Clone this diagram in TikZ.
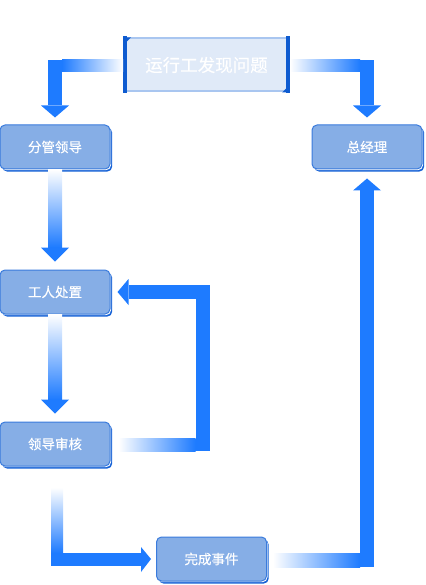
\documentclass[tikz,border=0pt]{standalone}
\usepackage{fontspec}
\newfontfamily\cjk[FakeBold=0.35]{Noto Sans CJK SC}
\usetikzlibrary{calc}
\definecolor{flowblue}{HTML}{1E7BFF}
\definecolor{nodefill}{HTML}{86AEE6}
\definecolor{nodeedge}{HTML}{3A7BDC}
\definecolor{shadowblue}{HTML}{1662D6}
\definecolor{topfill}{HTML}{E0EAF8}
\definecolor{topedge}{HTML}{A9C6F0}
\definecolor{topbar}{HTML}{0E5BD0}
\tikzset{
  % process boxes
  stepbox/.style={
    draw=nodeedge, fill=nodefill, rounded corners=5pt,
    minimum width=110pt, minimum height=44pt, inner sep=0pt,
    line width=1pt, text=white,
    font=\cjk\fontsize{13.5}{16}\selectfont,
    preaction={fill=shadowblue, transform canvas={xshift=2.2pt, yshift=-2.6pt}},
    preaction={fill=white, transform canvas={xshift=1pt, yshift=-1.2pt}},
  },
  % start box
  topbox/.style={
    draw=topedge, fill=topfill, minimum width=163pt, minimum height=53pt,
    inner sep=0pt, line width=2pt, text=white,
    font=\cjk\fontsize{17.5}{20}\selectfont,
  },
  % thick flow arrows
  bar/.style={fill=flowblue},
  fadeleft/.style={left color=white, right color=flowblue},
  faderight/.style={left color=flowblue, right color=white},
  fadetop/.style={top color=white, bottom color=flowblue},
}
\begin{document}
\begin{tikzpicture}[x=1pt, y=-1pt]
  \useasboundingbox (0,0) rectangle (425,585);

  \node[topbox] (issue) at (206.5,65) {运行工发现问题};
  \fill[topbar] ($(issue.north west)+(-1,-1)$) rectangle ($(issue.south west)+(3,1)$);
  \fill[topbar] ($(issue.north east)+(-3,-1)$) rectangle ($(issue.south east)+(1,1)$);
  \fill[topbar] (issue.north west) -- ++(7,0) -- ++(-7,7) -- cycle;
  \fill[topbar] (issue.south east) -- ++(-7,0) -- ++(7,-7) -- cycle;

  \node[stepbox] (lead) at (55,147) {分管领导};
  \node[stepbox] (gm) at (367,147) {总经理};
  \node[stepbox] (worker) at (55,292) {工人处置};
  \node[stepbox] (review) at (55,444) {领导审核};
  \node[stepbox] (finish) at (211.5,559) {完成事件};

  % issue -> lead
  \shade[faderight] ($(lead.north |- issue.west)+(7,-5)$) rectangle ($(issue.west)+(-1,7)$);
  \fill[bar] ($(lead.north |- issue.west)+(-7,-5)$) rectangle ($(lead.north)+(7,-19)$);
  \fill[bar] ($(lead.north)+(-14,-19)$) -- ($(lead.north)+(14,-19)$) -- ($(lead.north)+(0,-7)$) -- cycle;

  % issue -> gm
  \shade[fadeleft] ($(issue.east)+(1,-5)$) rectangle ($(gm.north |- issue.east)+(-7,7)$);
  \fill[bar] ($(gm.north |- issue.east)+(-7,-5)$) rectangle ($(gm.north)+(7,-19)$);
  \fill[bar] ($(gm.north)+(-14,-19)$) -- ($(gm.north)+(14,-19)$) -- ($(gm.north)+(0,-7)$) -- cycle;

  % lead -> worker
  \shade[fadetop] ($(lead.south)+(-7,0)$) rectangle ($(worker.north)+(7,-22)$);
  \fill[bar] ($(worker.north)+(-14,-22)$) -- ($(worker.north)+(14,-22)$) -- ($(worker.north)+(0,-8)$) -- cycle;

  % worker -> review
  \shade[fadetop] ($(worker.south)+(-7,0)$) rectangle ($(review.north)+(7,-22)$);
  \fill[bar] ($(review.north)+(-14,-22)$) -- ($(review.north)+(14,-22)$) -- ($(review.north)+(0,-8)$) -- cycle;

  % review -> worker
  \shade[fadeleft] ($(review.east)+(8,-6)$) rectangle ($(review.east)+(85,7)$);
  \fill[bar] ($(review.east)+(85,7)$) rectangle ($(worker.east)+(99,-7)$);
  \fill[bar] ($(worker.east)+(18,-7)$) rectangle ($(worker.east)+(99,7)$);
  \fill[bar] ($(worker.east)+(18,-13)$) -- ($(worker.east)+(18,13)$) -- ($(worker.east)+(7,0)$) -- cycle;

  % review -> finish
  \shade[fadetop] ($(review.south)+(-4,21)$) rectangle ($(review.south |- finish.west)+(8,-6)$);
  \fill[bar] ($(review.south |- finish.west)+(-4,-6)$) rectangle ($(finish.west)+(-15,7)$);
  \fill[bar] ($(finish.west)+(-15,-12)$) -- ($(finish.west)+(-15,13)$) -- ($(finish.west)+(-5,0)$) -- cycle;

  % finish -> gm
  \shade[fadeleft] ($(finish.east)+(6,-6)$) rectangle ($(gm.south |- finish.east)+(-7,8)$);
  \fill[bar] ($(gm.south |- finish.east)+(-7,8)$) rectangle ($(gm.south)+(7,21)$);
  \fill[bar] ($(gm.south)+(-14,21)$) -- ($(gm.south)+(14,21)$) -- ($(gm.south)+(0,9)$) -- cycle;
\end{tikzpicture}
\end{document}
